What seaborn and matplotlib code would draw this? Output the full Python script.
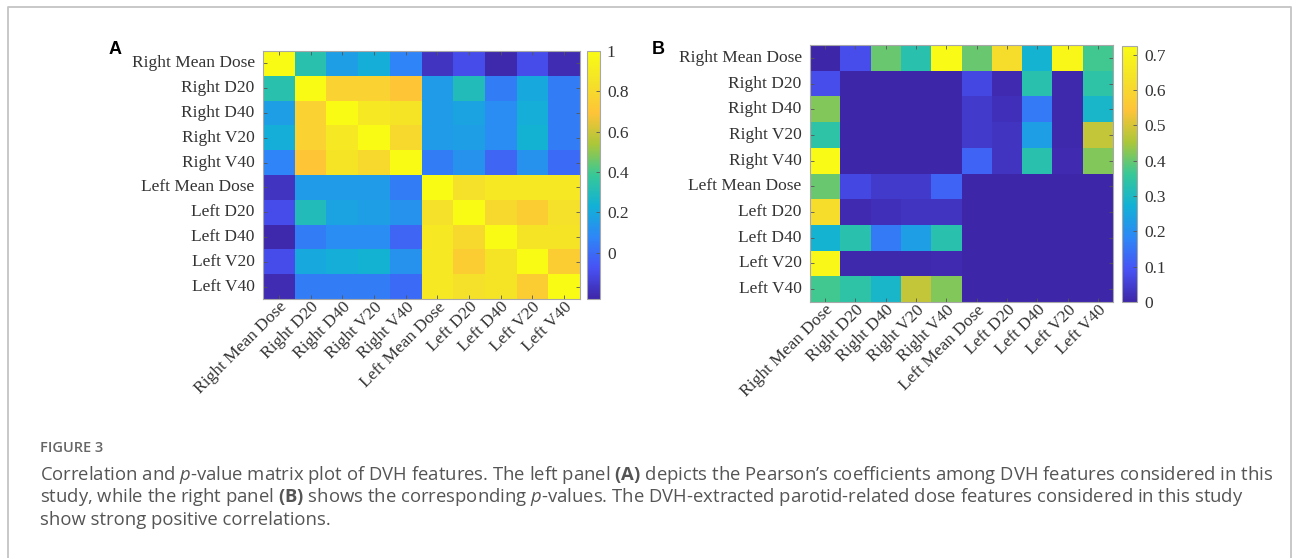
import numpy as np
import pandas as pd
import matplotlib
matplotlib.use('Agg')
import matplotlib.pyplot as plt
import seaborn as sns
from matplotlib.colors import LinearSegmentedColormap

features = ['Right Mean Dose', 'Right D20', 'Right D40', 'Right V20', 'Right V40',
            'Left Mean Dose', 'Left D20', 'Left D40', 'Left V20', 'Left V40']

# Pearson coefficients (panel A)
corr_rows = [
    [1.00, 0.33, 0.16, 0.22, 0.07, -0.18, -0.10, -0.22, -0.10, -0.21],
    [0.33, 1.00, 0.76, 0.76, 0.70, 0.15, 0.30, 0.05, 0.20, 0.05],
    [0.16, 0.76, 1.00, 0.88, 0.86, 0.15, 0.18, 0.10, 0.22, 0.05],
    [0.22, 0.76, 0.88, 1.00, 0.80, 0.15, 0.16, 0.10, 0.24, 0.05],
    [0.07, 0.70, 0.86, 0.80, 1.00, 0.05, 0.12, -0.02, 0.12, 0.00],
    [-0.18, 0.15, 0.15, 0.15, 0.05, 1.00, 0.84, 0.88, 0.88, 0.88],
    [-0.10, 0.30, 0.18, 0.16, 0.12, 0.84, 1.00, 0.80, 0.74, 0.84],
    [-0.22, 0.05, 0.10, 0.10, -0.02, 0.88, 0.80, 1.00, 0.86, 0.86],
    [-0.10, 0.20, 0.22, 0.24, 0.12, 0.88, 0.74, 0.86, 1.00, 0.74],
    [-0.21, 0.05, 0.05, 0.05, 0.00, 0.88, 0.84, 0.86, 0.74, 1.00],
]

# p-values (panel B)
pval_rows = [
    [0.00, 0.08, 0.40, 0.33, 0.72, 0.40, 0.62, 0.28, 0.71, 0.37],
    [0.08, 0.00, 0.00, 0.00, 0.00, 0.07, 0.01, 0.33, 0.005, 0.34],
    [0.42, 0.00, 0.00, 0.00, 0.00, 0.04, 0.02, 0.16, 0.005, 0.29],
    [0.34, 0.00, 0.00, 0.00, 0.00, 0.04, 0.03, 0.23, 0.005, 0.48],
    [0.72, 0.00, 0.00, 0.00, 0.00, 0.12, 0.03, 0.33, 0.01, 0.42],
    [0.40, 0.07, 0.04, 0.04, 0.12, 0.00, 0.00, 0.00, 0.00, 0.00],
    [0.62, 0.01, 0.02, 0.03, 0.03, 0.00, 0.00, 0.00, 0.00, 0.00],
    [0.28, 0.33, 0.16, 0.23, 0.33, 0.00, 0.00, 0.00, 0.00, 0.00],
    [0.71, 0.005, 0.005, 0.005, 0.01, 0.00, 0.00, 0.00, 0.00, 0.00],
    [0.37, 0.34, 0.29, 0.48, 0.42, 0.00, 0.00, 0.00, 0.00, 0.00],
]

corr_ticks = [0, 0.2, 0.4, 0.6, 0.8, 1]
corr_ticklabels = ['0', '0.2', '0.4', '0.6', '0.8', '1']
pval_ticks = [0, 0.1, 0.2, 0.3, 0.4, 0.5, 0.6, 0.7]
pval_ticklabels = ['0', '0.1', '0.2', '0.3', '0.4', '0.5', '0.6', '0.7']

# MATLAB parula, approximated
parula = LinearSegmentedColormap.from_list('parula', [
    (0.2422, 0.1504, 0.6603), (0.2810, 0.3228, 0.9579), (0.1786, 0.5289, 0.9682),
    (0.0689, 0.6948, 0.8394), (0.2161, 0.7843, 0.5923), (0.6720, 0.7793, 0.2227),
    (0.9970, 0.7659, 0.2199), (0.9598, 0.8870, 0.1566), (0.9769, 0.9839, 0.0805)])

corr = pd.DataFrame(corr_rows, index=features, columns=features)
pval = pd.DataFrame(pval_rows, index=features, columns=features)

W, H = 1293, 558
fig = plt.figure(figsize=(W / 100, H / 100), dpi=100)
fig.patch.set_facecolor('white')

def box(x0, y0, x1, y1):
    return [x0 / W, 1 - y1 / H, (x1 - x0) / W, (y1 - y0) / H]

serif = 'Liberation Serif'
txt = '#333333'
edge = '#a8a8a8'

def draw(data, ax_box, cb_box, vmin, vmax, ticks, ticklabels):
    ax = fig.add_axes(box(*ax_box))
    cax = fig.add_axes(box(*cb_box))
    sns.heatmap(data, ax=ax, cbar_ax=cax, cmap=parula, vmin=vmin, vmax=vmax,
                linewidths=0, cbar_kws={'ticks': ticks})
    for s in ax.spines.values():
        s.set_visible(True)
        s.set_color(edge)
        s.set_linewidth(0.8)
    ax.tick_params(axis='both', which='both', direction='in', length=3, width=0.6,
                   color='#555555', top=True, right=True)
    ax.tick_params(axis='y', pad=6)
    ax.tick_params(axis='x', pad=0)
    ax.set_xticklabels(features, rotation=45, ha='right', rotation_mode='anchor',
                       family=serif, fontsize=12.5, color=txt)
    ax.set_yticklabels(features, rotation=0, family=serif, fontsize=12.5, color=txt)
    ax.set_xlabel('')
    ax.set_ylabel('')
    cax.set_yticks(ticks)
    cax.set_yticklabels(ticklabels, family=serif, fontsize=12.5, color=txt)
    cax.tick_params(direction='in', length=3, width=0.6, color='#555555', pad=5)
    cb = ax.collections[0].colorbar
    cb.outline.set_edgecolor(edge)
    cb.outline.set_linewidth(0.8)
    return ax

draw(corr, (263, 51, 580, 299), (587, 51, 600, 299), -0.23, 1.0, corr_ticks, corr_ticklabels)
draw(pval, (810, 45, 1113, 302), (1122, 46, 1137, 302), 0.0, 0.725, pval_ticks, pval_ticklabels)

fig.text(109 / W, 1 - 50 / H, 'A', family='Liberation Sans', weight='bold', fontsize=13,
         va='center', ha='left')
fig.text(652 / W, 1 - 49 / H, 'B', family='Liberation Sans', weight='bold', fontsize=13,
         va='center', ha='left')

# frame round the figure (bottom edge is off the picture)
frame = '#c4c4c4'
fig.add_artist(plt.Line2D([8 / W, 8 / W, 1291 / W, 1291 / W], [0, 1 - 7 / H, 1 - 7 / H, 0],
                          transform=fig.transFigure, color=frame, lw=1.3))

# caption
plt.rcParams['mathtext.fontset'] = 'custom'
plt.rcParams['mathtext.rm'] = 'Open Sans'
plt.rcParams['mathtext.it'] = 'Open Sans:italic'
plt.rcParams['mathtext.bf'] = 'Open Sans:bold'
cap = '#555555'
fig.text(40 / W, 1 - 448 / H, 'FIGURE 3', family='Open Sans', weight='semibold',
         fontsize=10.5, color='#666666', va='center')
lines = [
    r"Correlation and $\mathit{p}$-value matrix plot of DVH features. The left panel $\mathbf{(A)}$ depicts the Pearson’s coefficients among DVH features considered in this",
    r"study, while the right panel $\mathbf{(B)}$ shows the corresponding $\mathit{p}$-values. The DVH-extracted parotid-related dose features considered in this study",
    "show strong positive correlations.",
]
for i, line in enumerate(lines):
    fig.text(40 / W, 1 - (475 + 22.5 * i) / H, line, family='Open Sans', fontsize=13.3,
             color=cap, va='center')

fig.savefig('out.png', dpi=100)
